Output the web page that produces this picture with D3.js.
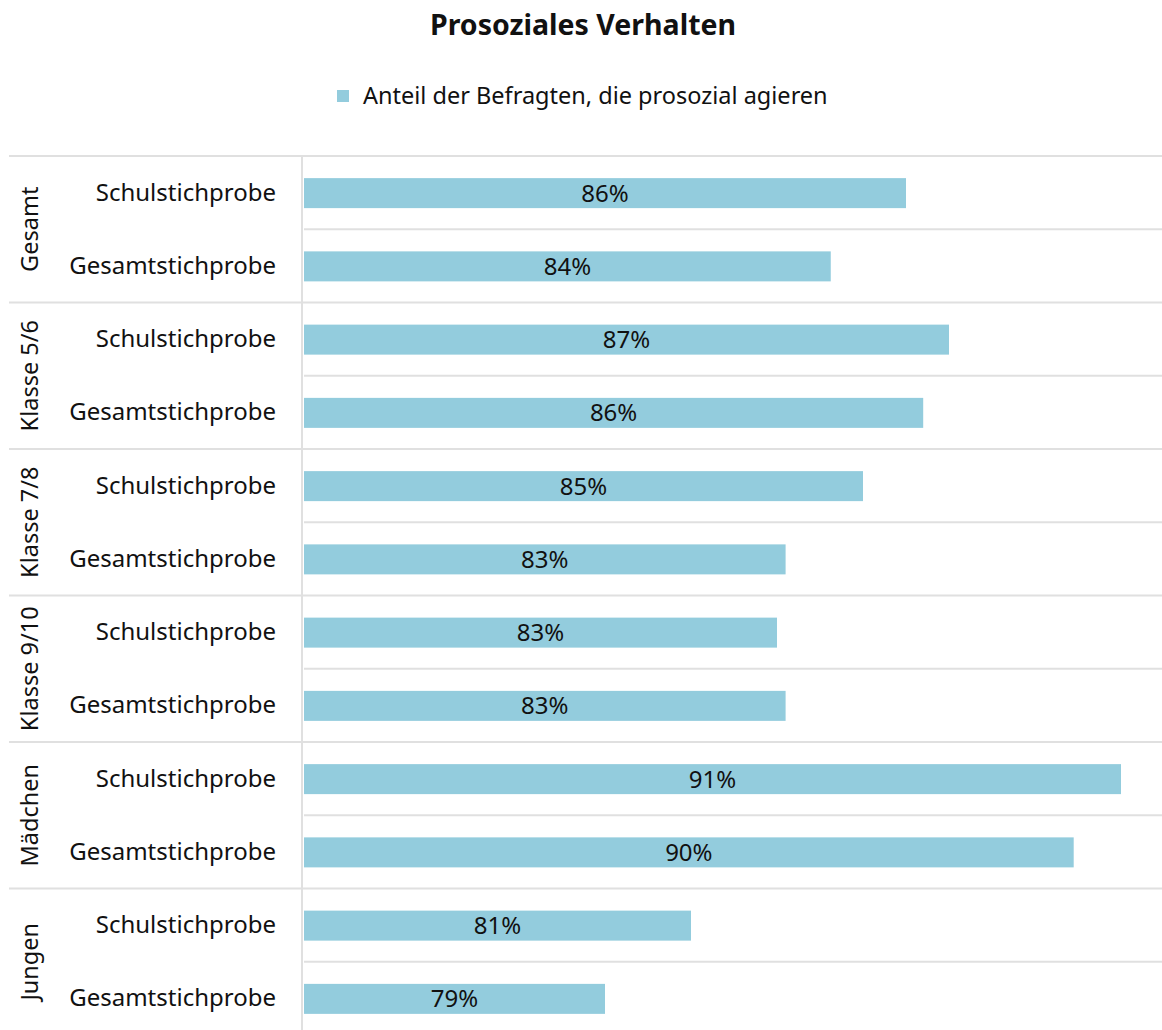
<!DOCTYPE html>
<html lang="de">
<head>
    <meta charset="utf-8">
    <script src="https://d3js.org/d3.v7.min.js"></script>
    <title>Prosoziales Verhalten</title>
    <style>
        html, body { margin: 0; padding: 0; background: #fff; }
        svg text { font-family: "Source Sans Pro", "Noto Sans", sans-serif; fill: #111; }
    </style>
</head>
<body>
<div id="chart"></div>
<script>
    // Data
    const groups = ["Gesamt", "Klasse 5/6", "Klasse 7/8", "Klasse 9/10", "Mädchen", "Jungen"];
    const samples = ["Schulstichprobe", "Gesamtstichprobe"];
    const values = [
        [86.0, 84.25],
        [87.0, 86.4],
        [85.0, 83.2],
        [83.0, 83.2],
        [91.0, 89.9],
        [81.0, 79.0]
    ];
    const labels = [
        ["86%", "84%"],
        ["87%", "86%"],
        ["85%", "83%"],
        ["83%", "83%"],
        ["91%", "90%"],
        ["81%", "79%"]
    ];
    const legendLabel = "Anteil der Befragten, die prosozial agieren";

    const W = 1162, H = 1030;
    const margin = {top: 156, left: 304};
    const rowH = 73.25;

    const rows = [];
    groups.forEach((g, gi) => samples.forEach((s, si) => {
        rows.push({group: g, sample: s, value: values[gi][si], label: labels[gi][si], key: g + "|" + s, first: si === 0});
    }));

    const svg = d3.select("#chart").append("svg")
        .attr("width", W).attr("height", H);

    // Title
    svg.append("text")
        .attr("x", 583).attr("y", 35)
        .attr("text-anchor", "middle")
        .style("font-size", "28.5px").style("font-weight", "bold")
        .text("Prosoziales Verhalten");

    // Legend
    const leg = svg.append("g").attr("transform", "translate(337,90)");
    leg.append("rect").attr("width", 12).attr("height", 12).attr("fill", "#93ccdd");
    leg.append("text").attr("x", 26).attr("y", 14)
        .style("font-size", "23.5px").text(legendLabel);

    // Scales
    const x = d3.scaleLinear().domain([72, 92]).range([margin.left, margin.left + 860]);
    const y = d3.scaleBand().domain(rows.map(d => d.key))
        .range([margin.top, margin.top + rowH * rows.length]);
    const barH = 30;

    // Grid lines
    svg.selectAll(".grid").data(rows).join("line")
        .attr("x1", d => d.first ? 9 : margin.left)
        .attr("x2", W)
        .attr("y1", d => y(d.key)).attr("y2", d => y(d.key))
        .attr("stroke", "#e0e0e0").attr("stroke-width", 2);

    // Vertical axis line
    svg.append("line")
        .attr("x1", margin.left - 2).attr("x2", margin.left - 2)
        .attr("y1", margin.top).attr("y2", H)
        .attr("stroke", "#e0e0e0").attr("stroke-width", 2);

    // Bars
    svg.selectAll(".bar").data(rows).join("rect")
        .attr("x", x(72))
        .attr("y", d => y(d.key) + y.bandwidth() / 2 - barH / 2 + 0.5)
        .attr("width", d => x(d.value) - x(72))
        .attr("height", barH)
        .attr("fill", "#93ccdd");

    // Value labels
    svg.selectAll(".val").data(rows).join("text")
        .attr("x", d => (x(72) + x(d.value)) / 2)
        .attr("y", d => y(d.key) + y.bandwidth() / 2 + 9)
        .attr("text-anchor", "middle")
        .style("font-size", "24px")
        .text(d => d.label);

    // Sample labels
    svg.selectAll(".cat").data(rows).join("text")
        .attr("x", 276)
        .attr("y", d => y(d.key) + y.bandwidth() / 2 + 8)
        .attr("text-anchor", "end")
        .style("font-size", "24px")
        .text(d => d.sample);

    // Group labels (rotated)
    svg.selectAll(".grp").data(groups).join("text")
        .attr("transform", (g, i) => {
            const cy = margin.top + rowH * (2 * i + 1);
            return `translate(38,${cy}) rotate(-90)`;
        })
        .attr("text-anchor", "middle")
        .style("font-size", "23.5px")
        .text(d => d);
</script>
</body>
</html>
